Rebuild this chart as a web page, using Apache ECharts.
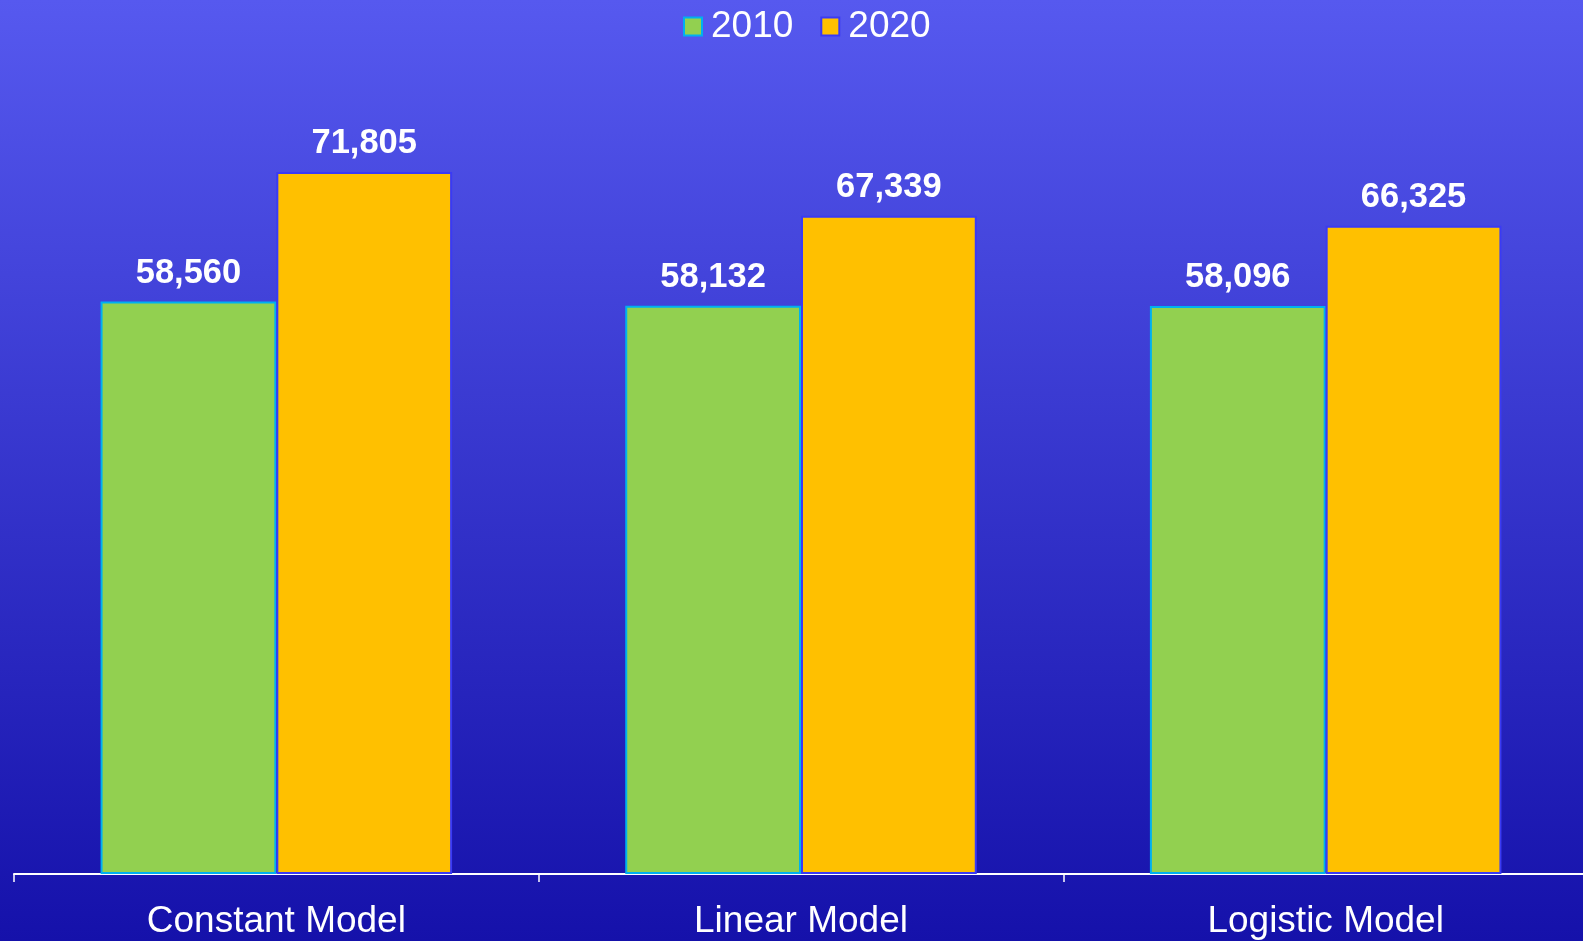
<!DOCTYPE html>
<html>
<head>
<meta charset="utf-8">
<script src="https://cdn.jsdelivr.net/npm/echarts@6/dist/echarts.min.js"></script>
<style>
  html, body { margin: 0; padding: 0; }
  #chart { width: 1583px; height: 941px; }
</style>
</head>
<body>
<div id="chart"></div>
<script>
// data
var categories = ['Constant Model', 'Linear Model', 'Logistic Model'];
var values2010 = [58560, 58132, 58096];
var values2020 = [71805, 67339, 66325];

var chart = echarts.init(document.getElementById('chart'));

var labelStyle = {
    show: true,
    position: 'top',
    distance: 11,
    color: '#ffffff',
    fontFamily: 'Liberation Sans, Arial, sans-serif',
    fontWeight: 'bold',
    fontSize: 34.5,
    formatter: function (p) {
        return p.value.toLocaleString('en-US');
    }
};

var option = {
    backgroundColor: new echarts.graphic.LinearGradient(0, 0, 0, 1, [
        { offset: 0, color: '#5659EF' },
        { offset: 1, color: '#1511AA' }
    ]),
    animation: false,
    legend: {
        top: 3,
        left: 678,
        icon: 'rect',
        itemWidth: 18,
        itemHeight: 18,
        itemGap: 27,
        textStyle: {
            color: '#ffffff',
            fontFamily: 'Liberation Sans, Arial, sans-serif',
            fontSize: 37,
            padding: [0, 0, 0, 4]
        },
        data: ['2010', '2020']
    },
    grid: {
        left: 14,
        right: -5,
        top: 92,
        bottom: 67,
        containLabel: false,
        outerBoundsMode: 'none'
    },
    xAxis: {
        type: 'category',
        data: categories,
        axisLine: { lineStyle: { color: '#ffffff', width: 2 } },
        axisTick: { show: true, length: 8, lineStyle: { color: '#ffffff', width: 1.5 } },
        axisLabel: {
            color: '#ffffff',
            fontFamily: 'Liberation Sans, Arial, sans-serif',
            fontSize: 37,
            margin: 29
        }
    },
    yAxis: {
        type: 'value',
        min: 0,
        max: 80000,
        show: false,
        splitLine: { show: false }
    },
    series: [
        {
            name: '2010',
            type: 'bar',
            data: values2010,
            barWidth: '33.5%',
            barGap: '0%',
            itemStyle: { color: '#92D050', borderColor: '#00B0F0', borderWidth: 2 },
            label: labelStyle
        },
        {
            name: '2020',
            type: 'bar',
            data: values2020,
            barWidth: '33.5%',
            itemStyle: { color: '#FFC000', borderColor: '#3A3AF5', borderWidth: 2 },
            label: labelStyle
        }
    ]
};

chart.setOption(option);
</script>
</body>
</html>
